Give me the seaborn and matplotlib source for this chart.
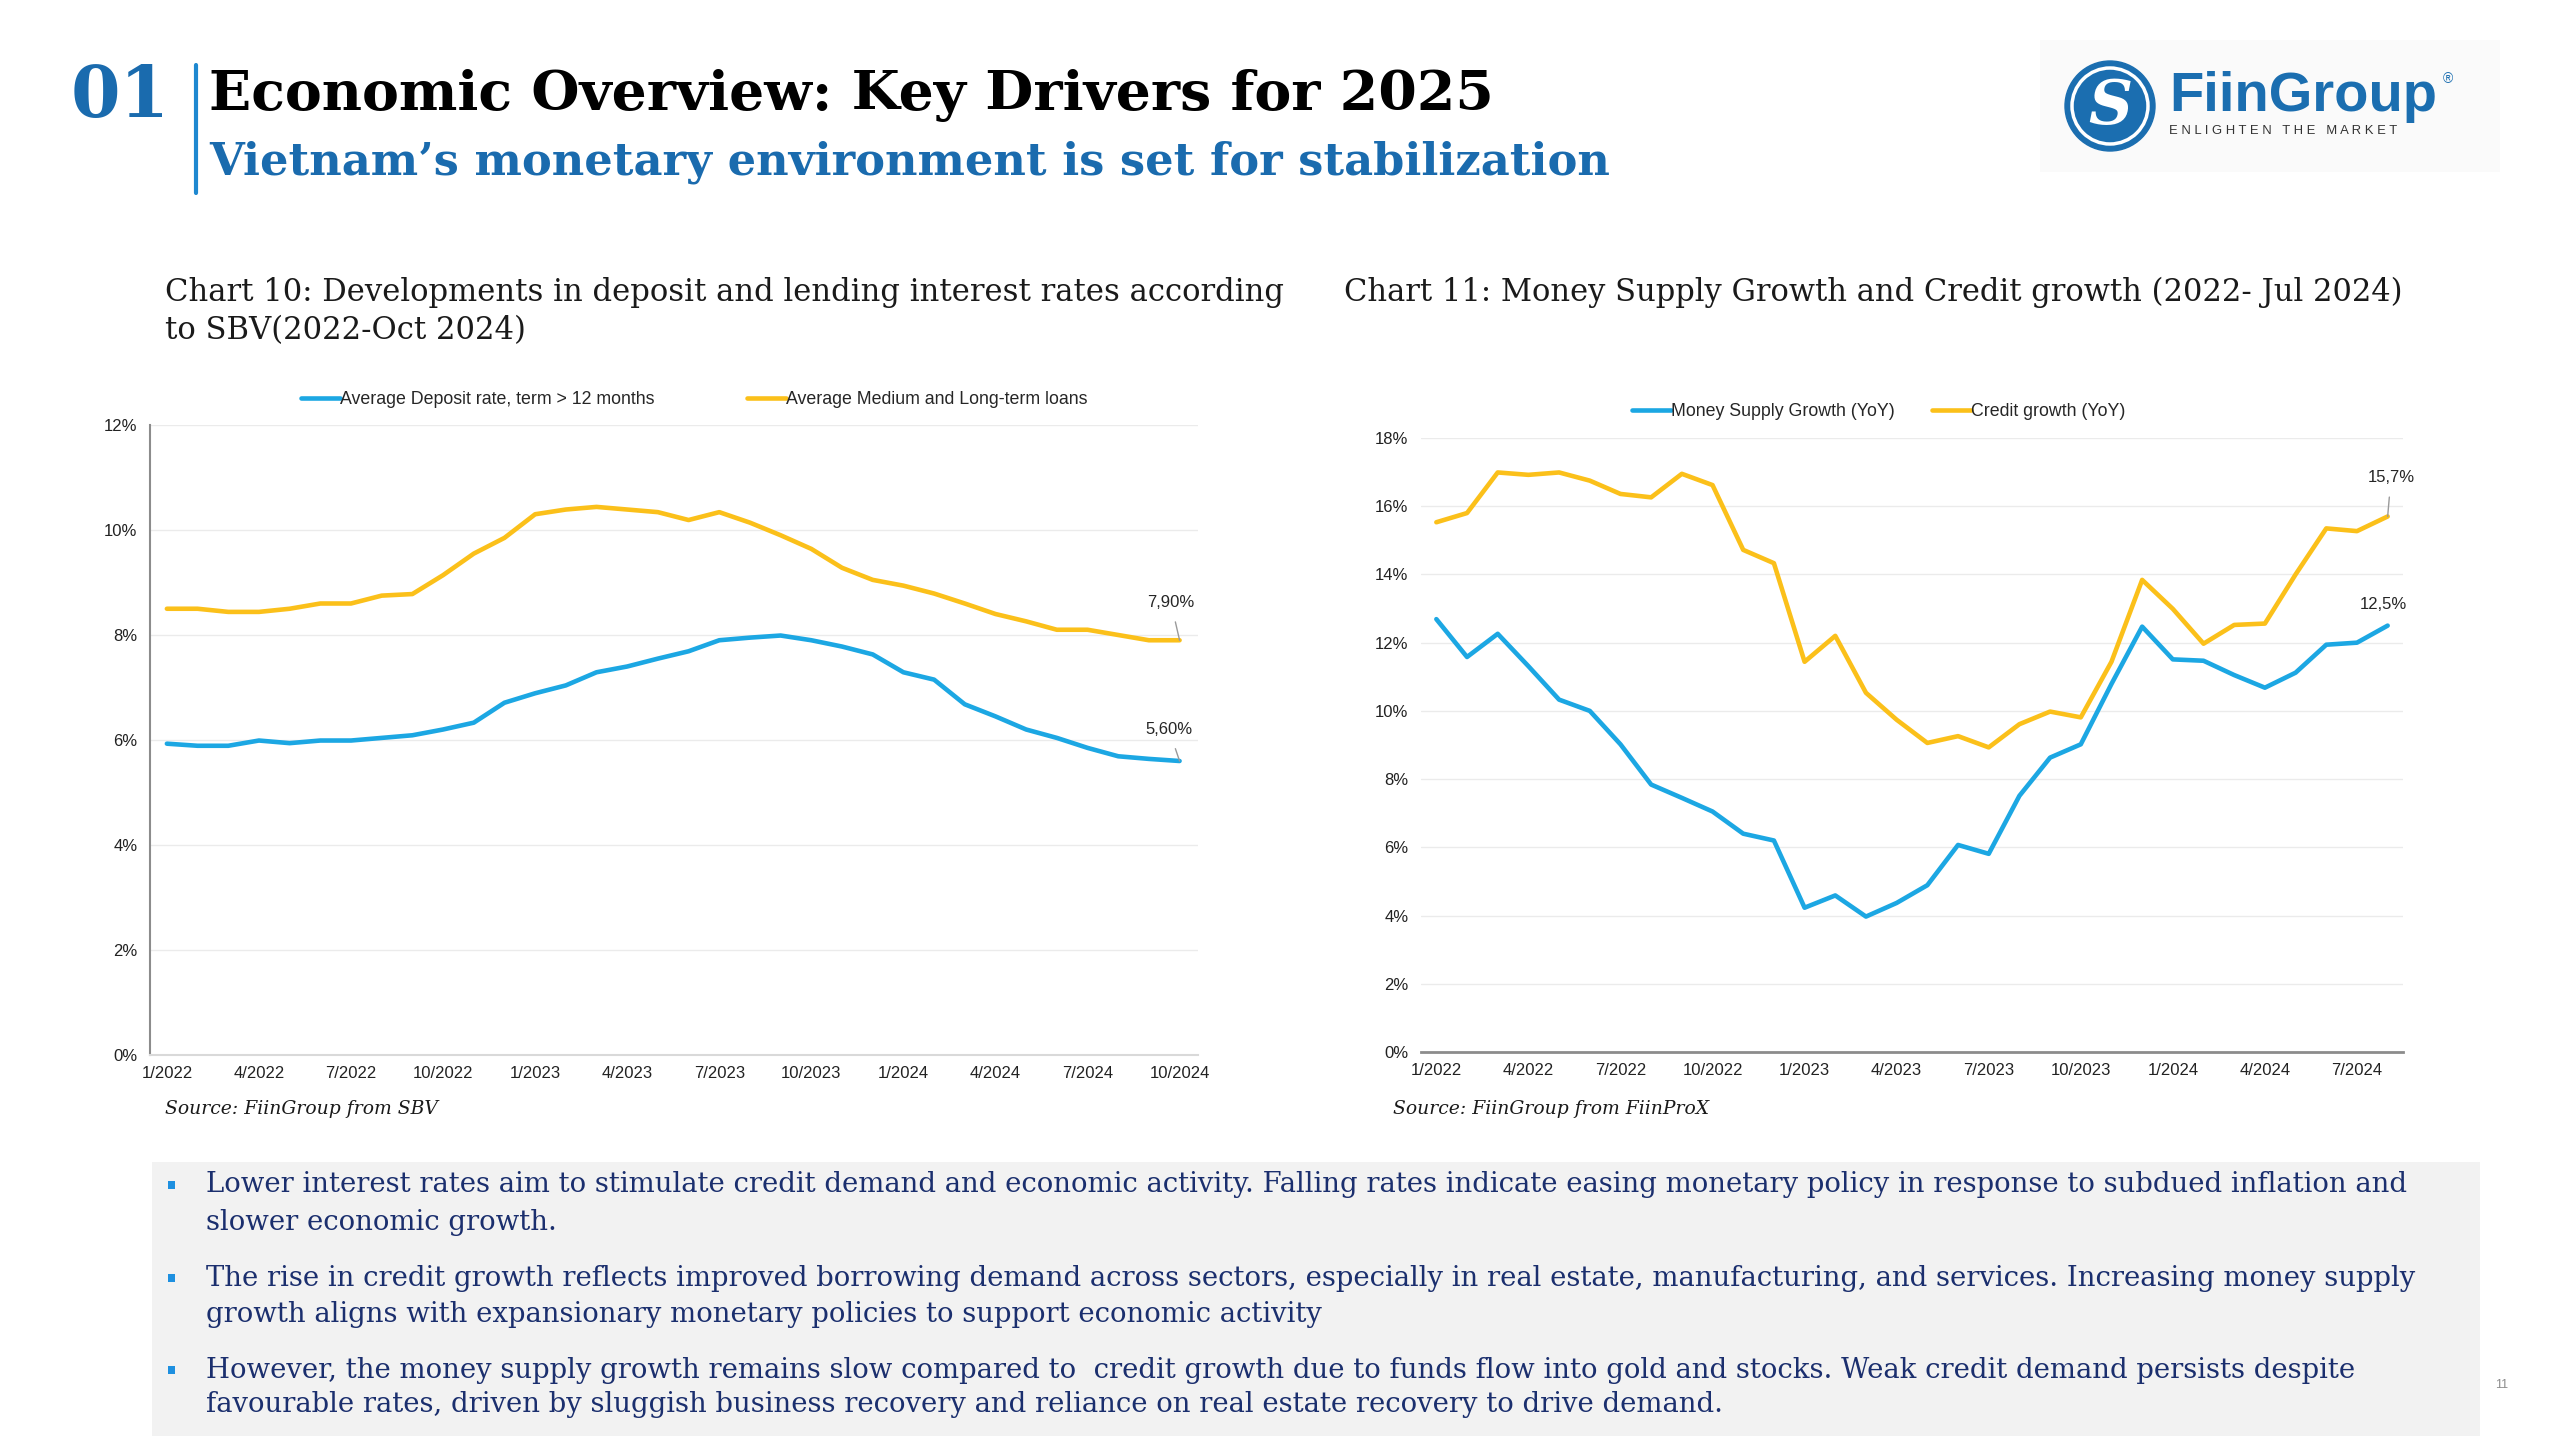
import numpy as np
import pandas as pd
import seaborn as sns
import matplotlib.pyplot as plt
from matplotlib.patches import Rectangle, Circle

# ---- data ----
months_c10 = [f"{m}/{y}" for y in (2022, 2023, 2024) for m in range(1, 13)][:34]  # 1/2022 - 10/2024
deposit_rate = [5.93, 5.89, 5.89, 5.99, 5.94, 5.99, 5.99, 6.04, 6.09, 6.20, 6.33, 6.71,
                6.89, 7.04, 7.29, 7.40, 7.55, 7.69, 7.90, 7.95, 7.99, 7.90, 7.78, 7.63,
                7.29, 7.15, 6.68, 6.45, 6.20, 6.04, 5.85, 5.69, 5.64, 5.60]
lending_rate = [8.50, 8.50, 8.44, 8.44, 8.50, 8.60, 8.60, 8.75, 8.78, 9.14, 9.55, 9.85,
                10.30, 10.39, 10.44, 10.39, 10.34, 10.19, 10.34, 10.14, 9.90, 9.64, 9.28, 9.05,
                8.94, 8.79, 8.60, 8.40, 8.26, 8.10, 8.10, 8.00, 7.90, 7.90]

months_c11 = [f"{m}/{y}" for y in (2022, 2023, 2024) for m in range(1, 13)][:32]  # 1/2022 - 8/2024
money_supply = [12.69, 11.58, 12.26, 11.31, 10.33, 10.00, 9.02, 7.84, 7.45, 7.05, 6.40, 6.20,
                4.23, 4.59, 3.97, 4.37, 4.89, 6.07, 5.81, 7.51, 8.63, 9.02, 10.79, 12.47,
                11.51, 11.47, 11.05, 10.68, 11.12, 11.94, 12.00, 12.50]
credit_growth = [15.53, 15.80, 16.99, 16.92, 16.99, 16.75, 16.36, 16.26, 16.95, 16.62, 14.72, 14.33,
                 11.44, 12.20, 10.53, 9.74, 9.06, 9.26, 8.93, 9.61, 9.98, 9.81, 11.44, 13.84,
                 12.99, 11.97, 12.52, 12.56, 14.00, 15.35, 15.27, 15.70]

c10_series = ["Average Deposit rate, term > 12 months", "Average Medium and Long-term loans"]
c11_series = ["Money Supply Growth (YoY)", "Credit growth (YoY)"]

bullets = [
    ["Lower interest rates aim to stimulate credit demand and economic activity. Falling rates indicate easing monetary policy in response to subdued inflation and",
     "slower economic growth."],
    ["The rise in credit growth reflects improved borrowing demand across sectors, especially in real estate, manufacturing, and services. Increasing money supply",
     "growth aligns with expansionary monetary policies to support economic activity"],
    ["However, the money supply growth remains slow compared to  credit growth due to funds flow into gold and stocks. Weak credit demand persists despite",
     "favourable rates, driven by sluggish business recovery and reliance on real estate recovery to drive demand."],
]

BLUE = "#1CA7E3"
YELLOW = "#FBC01A"
NAVY = "#1B2F6E"
HEAD_BLUE = "#1A6BAE"

sns.set_theme(style="white")
plt.rcParams['font.family'] = ['Liberation Sans', 'DejaVu Sans']

W, H = 2560, 1440
fig = plt.figure(figsize=(W / 100, H / 100), dpi=100)
fig.patch.set_facecolor("white")
renderer = fig.canvas.get_renderer()


def fx(x):
    return x / W


def fy(y):
    return 1 - y / H


def fit_text(x0, x1, y, s, size=20, **kw):
    t = fig.text(fx(x0), fy(y), s, fontsize=size, va="center", ha="left", **kw)
    w = t.get_window_extent(renderer).width
    t.set_fontsize(size * (x1 - x0) / w)
    return t


# ---- header ----
fit_text(71, 170, 97, "01", family="DejaVu Serif", weight="bold", color=HEAD_BLUE)
fig.add_artist(plt.Line2D([fx(196), fx(196)], [fy(65), fy(193)], color="#1E88D0", lw=3))
fit_text(209, 1494, 95, "Economic Overview: Key Drivers for 2025",
         family="DejaVu Serif", weight="bold", color="black")
fit_text(209, 1612, 162, "Vietnam\u2019s monetary environment is set for stabilization",
         family="DejaVu Serif", weight="bold", color=HEAD_BLUE)

# logo
fig.add_artist(Rectangle((fx(2040), fy(172)), fx(460), 132 / H, color="#fafafa", lw=0, zorder=-1))
logo = fig.add_axes([fx(2060), fy(156), 100 / W, 100 / H])
logo.set_zorder(5)
logo.patch.set_alpha(0)
logo.set_xlim(-1, 1)
logo.set_ylim(-1, 1)
logo.set_aspect("equal")
logo.axis("off")
logo.add_patch(Circle((0, 0), 0.9, color="#1B6EB0"))
logo.add_patch(Circle((0, 0), 0.76, fill=False, ec="white", lw=2.5))
logo.text(0, -0.02, "S", ha="center", va="center", color="white", fontsize=44,
          family="DejaVu Serif", style="italic", weight="bold")
fit_text(2169, 2437, 97, "FiinGroup", weight="bold", color="#1B6EB0")
fit_text(2169, 2396, 131, "E N L I G H T E N   T H E   M A R K E T", color="#333333")
fig.text(fx(2448), fy(79), "\u00ae", fontsize=10, color="#1B6EB0", ha="center", va="center")

# ---- chart titles ----
fit_text(165, 1282, 292, "Chart 10: Developments in deposit and lending interest rates according",
         family="DejaVu Serif", color="#1a1a1a")
t10 = fig.texts[-1]
fig.text(fx(165), fy(331), "to SBV(2022-Oct 2024)", fontsize=t10.get_fontsize(),
         family="DejaVu Serif", color="#1a1a1a", va="center")
fit_text(1344, 2400, 292, "Chart 11: Money Supply Growth and Credit growth (2022- Jul 2024)",
         family="DejaVu Serif", color="#1a1a1a")

TICK = 12
LEG = 12.8


def draw_chart(rect, labels, s1, s2, names, xlim, ymax, leg_xy, colspace, left_spine):
    ax = fig.add_axes(rect)
    df = pd.DataFrame({"idx": list(range(len(labels))) * 2,
                       "value": s1 + s2,
                       "series": [names[0]] * len(s1) + [names[1]] * len(s2)})
    sns.lineplot(data=df, x="idx", y="value", hue="series", hue_order=names,
                 palette=[BLUE, YELLOW], lw=3.3, sort=False, ax=ax)
    leg = ax.get_legend()
    handles = leg.legend_handles
    texts = [t.get_text() for t in leg.get_texts()]
    leg.remove()
    fig.legend(handles, texts, loc="center", bbox_to_anchor=(fx(leg_xy[0]), fy(leg_xy[1])),
               ncol=2, frameon=False, fontsize=LEG, handlelength=2.2, handletextpad=0.0,
               columnspacing=colspace)
    ax.set_xlim(*xlim)
    ax.set_ylim(0, ymax)
    ax.set_yticks(np.arange(0, ymax + 0.1, 2))
    ax.set_yticklabels([f"{v:.0f}%" for v in np.arange(0, ymax + 0.1, 2)], fontsize=TICK)
    ticks = list(range(0, len(labels), 3))
    ax.set_xticks(ticks)
    ax.set_xticklabels([labels[i] for i in ticks], fontsize=TICK)
    ax.set_xlabel("")
    ax.set_ylabel("")
    ax.grid(axis="y", color="#ebebeb", lw=1)
    ax.set_axisbelow(True)
    ax.tick_params(length=0, colors="#222222")
    ax.tick_params(axis="y", pad=9)
    ax.tick_params(axis="x", pad=8)
    for s in ["top", "right"]:
        ax.spines[s].set_visible(False)
    if left_spine:
        ax.spines["left"].set_color("#8c8c8c")
        ax.spines["left"].set_linewidth(1.5)
        ax.spines["bottom"].set_color("#d9d9d9")
        ax.spines["bottom"].set_linewidth(1.5)
    else:
        ax.spines["left"].set_visible(False)
        ax.spines["bottom"].set_color("#8c8c8c")
        ax.spines["bottom"].set_linewidth(2)
    ax.set_facecolor("white")
    return ax


def pix(x, y):
    # figure-pixel position (top-left origin) -> figure fraction for annotation text
    return (fx(x), fy(y))


ax1 = draw_chart([fx(150), fy(1055), 1048 / W, 630 / H], months_c10, deposit_rate, lending_rate,
                 c10_series, (-0.55, 33.6), 12, (694, 400), 5.2, True)
n1 = len(months_c10) - 1
ax1.annotate("7,90%", xy=(n1, lending_rate[-1]), xytext=pix(1171, 603),
             textcoords="figure fraction", ha="center", va="center", fontsize=TICK,
             arrowprops=dict(arrowstyle="-", color="#9a9a9a", lw=1, shrinkA=6, shrinkB=0))
ax1.annotate("5,60%", xy=(n1, deposit_rate[-1]), xytext=pix(1169, 730),
             textcoords="figure fraction", ha="center", va="center", fontsize=TICK,
             arrowprops=dict(arrowstyle="-", color="#9a9a9a", lw=1, shrinkA=6, shrinkB=0))

ax2 = draw_chart([fx(1421), fy(1052), 982 / W, 614 / H], months_c11, money_supply, credit_growth,
                 c11_series, (-0.5, 31.5), 18, (1879, 412), 2.1, False)
n2 = len(months_c11) - 1
ax2.annotate("15,7%", xy=(n2, credit_growth[-1]), xytext=pix(2391, 478),
             textcoords="figure fraction", ha="center", va="center", fontsize=TICK,
             arrowprops=dict(arrowstyle="-", color="#9a9a9a", lw=1, shrinkA=6, shrinkB=0))
ax2.annotate("12,5%", xy=(n2, money_supply[-1]), xytext=pix(2383, 605),
             textcoords="figure fraction", ha="center", va="center", fontsize=TICK)

# ---- sources ----
fit_text(165, 438, 1109, "Source: FiinGroup from SBV", family="DejaVu Serif", style="italic",
         color="#1a1a1a")
src_size = fig.texts[-1].get_fontsize()
fig.text(fx(1393), fy(1109), "Source: FiinGroup from FiinProX", fontsize=src_size,
         family="DejaVu Serif", style="italic", color="#1a1a1a", va="center")

# ---- bullet box ----
fig.add_artist(Rectangle((fx(152), fy(1436)), (2480 - 152) / W, (1436 - 1162) / H,
                         color="#f2f2f2", lw=0, zorder=-1))
line_y = [(1185, 1222), (1278, 1315), (1370, 1404)]
bt = fit_text(206, 2409, line_y[0][0], bullets[0][0], family="DejaVu Serif", color=NAVY)
bsize = bt.get_fontsize()
for k, (lines, ys) in enumerate(zip(bullets, line_y)):
    fig.add_artist(Rectangle((fx(168), fy(ys[0] + 4)), 7 / W, 8 / H, color="#1E90E0", lw=0))
    for j, (txt, yy) in enumerate(zip(lines, ys)):
        if k == 0 and j == 0:
            continue
        fig.text(fx(206), fy(yy), txt, fontsize=bsize, family="DejaVu Serif", color=NAVY,
                 va="center", ha="left")

fig.text(fx(2502), fy(1385), "11", fontsize=9, color="#8c8c8c", ha="center", va="center")

fig.savefig("out.png", dpi=100, facecolor="white")
